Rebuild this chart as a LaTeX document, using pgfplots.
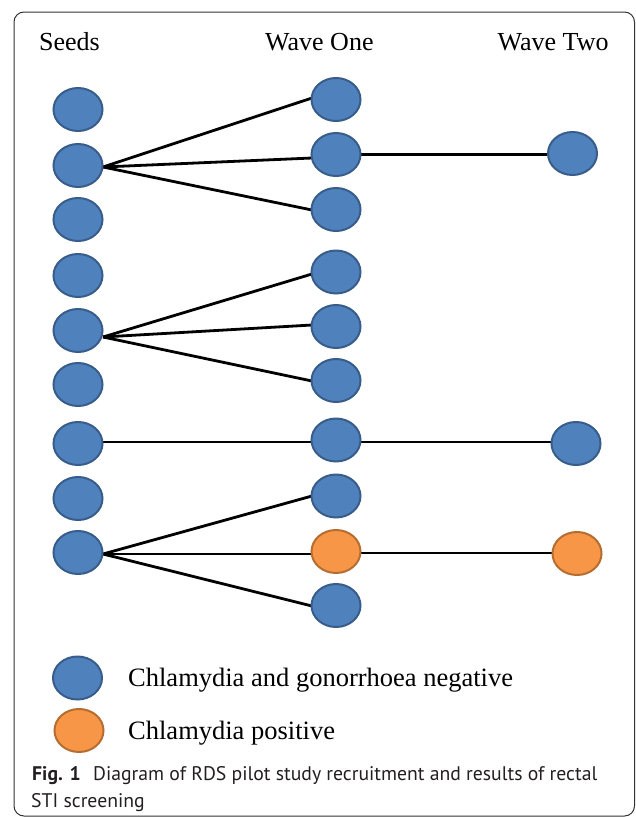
\documentclass[border=0pt]{standalone}
\usepackage{fontspec}
\setmainfont{Liberation Serif}
\newfontfamily\capfont{PT Sans}
\usepackage{pgfplots}
\pgfplotsset{compat=1.18}
\definecolor{nodeblue}{RGB}{79,129,189}
\definecolor{nodeblueedge}{RGB}{56,93,138}
\definecolor{nodeorange}{RGB}{247,150,70}
\definecolor{nodeorangeedge}{RGB}{182,109,49}
\definecolor{captext}{RGB}{35,31,32}
\begin{document}
\begin{tikzpicture}
\begin{axis}[scale only axis, width=636pt, height=817pt,
  xmin=0, xmax=636, ymin=0, ymax=817, y dir=reverse,
  hide axis, clip=false]
\path (rel axis cs:0,0) rectangle (rel axis cs:1,1);
% frame
\addplot[draw=black!80, line width=1pt, rounded corners=10pt, mark=none]
  coordinates {(14,400) (14,12) (634.5,12) (634.5,816) (14,816) (14,400)};
% links seeds -> wave one
\addplot[black, line width=2.8pt, mark=none] coordinates {(103,167) (312,98)};
\addplot[black, line width=2.8pt, mark=none] coordinates {(103,167) (312,158)};
\addplot[black, line width=2.8pt, mark=none] coordinates {(103,167) (312,210)};
\addplot[black, line width=2.8pt, mark=none] coordinates {(103,337) (312,274)};
\addplot[black, line width=2.8pt, mark=none] coordinates {(103,337) (312,325)};
\addplot[black, line width=2.8pt, mark=none] coordinates {(103,337) (312,381)};
\addplot[black, line width=2.8pt, mark=none] coordinates {(103,442) (312,442)};
\addplot[black, line width=2.8pt, mark=none] coordinates {(103,554) (312,496)};
\addplot[black, line width=2.8pt, mark=none] coordinates {(103,554) (312,554)};
\addplot[black, line width=2.8pt, mark=none] coordinates {(103,554) (312,606)};
% links wave one -> wave two
\addplot[black, line width=2.8pt, mark=none] coordinates {(360,154.5) (550,154.5)};
\addplot[black, line width=2.8pt, mark=none] coordinates {(360,442) (553,442)};
\addplot[black, line width=2.8pt, mark=none] coordinates {(360,553) (554,553)};
% negative participants
\addplot[only marks, mark=*, mark size=21.5pt,
  mark options={xscale=1.14, fill=nodeblue, draw=nodeblueedge, line width=2pt}]
  table {
x y
78 109.5
78 165.5
78 219.5
78 275.5
78 330.5
78 384.5
78 443.5
78 498.5
78 552.5
336 99.5
336 154.5
336 209.5
336 272
336 326.5
336 380.5
336 440
336 496
336 605.5
572.5 153.5
576 443.5
77.5 678
};
% chlamydia positive participants
\addplot[only marks, mark=*, mark size=21.5pt,
  mark options={xscale=1.14, fill=nodeorange, draw=nodeorangeedge, line width=2pt}]
  table {
x y
336 551.5
577 553.5
79 730.5
};
% headers
\node[anchor=base west, inner sep=0, font=\fontsize{26}{30}\selectfont] at (axis cs:39,50) {Seeds};
\node[anchor=base west, inner sep=0, font=\fontsize{26}{30}\selectfont] at (axis cs:265,50) {Wave One};
\node[anchor=base west, inner sep=0, font=\fontsize{26}{30}\selectfont] at (axis cs:497.5,50) {Wave Two};
% legend text
\node[anchor=base west, inner sep=0, font=\fontsize{26.5}{30}\selectfont] at (axis cs:128,686) {Chlamydia and gonorrhoea negative};
\node[anchor=base west, inner sep=0, font=\fontsize{26.5}{30}\selectfont] at (axis cs:128,739) {Chlamydia positive};
% caption
\node[anchor=base west, inner sep=0, text=captext, font=\capfont\bfseries\fontsize{19.7}{23}\selectfont] at (axis cs:32,780) {Fig. 1};
\node[anchor=base west, inner sep=0, text=captext, font=\capfont\fontsize{19.7}{23}\selectfont] at (axis cs:93,780) {Diagram of RDS pilot study recruitment and results of rectal};
\node[anchor=base west, inner sep=0, text=captext, font=\capfont\fontsize{19.7}{23}\selectfont] at (axis cs:31,807) {STI screening};
\end{axis}
\end{tikzpicture}
\end{document}
